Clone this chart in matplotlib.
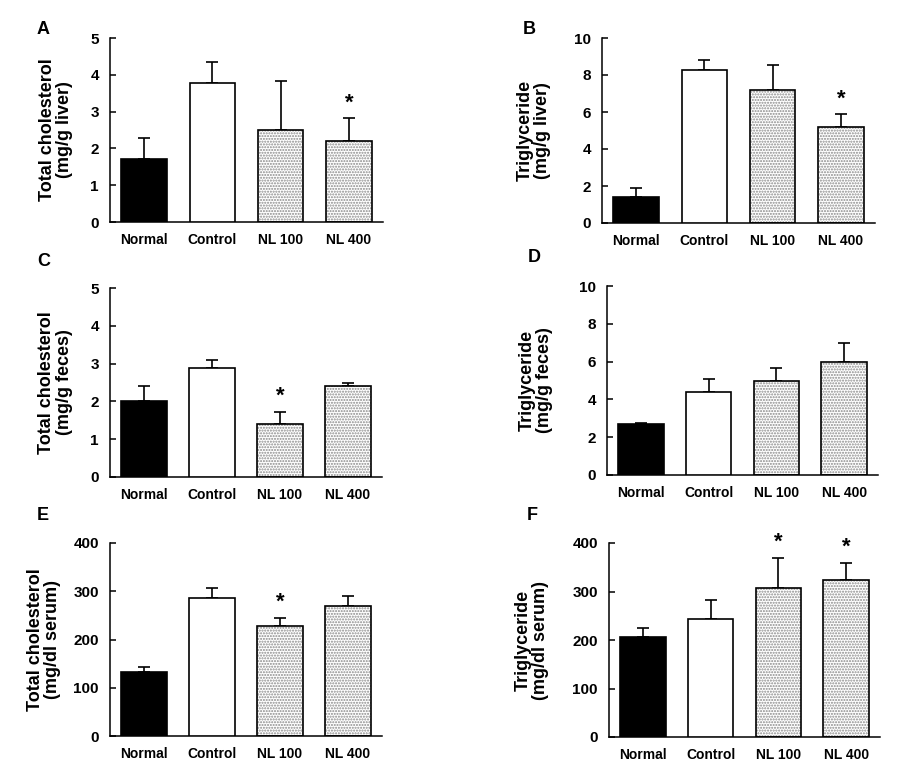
import matplotlib
matplotlib.use('Agg')
import matplotlib.pyplot as plt
import numpy as np

plt.rcParams['font.family'] = ['Liberation Sans', 'DejaVu Sans']
plt.rcParams['font.weight'] = 'bold'

groups = ['Normal', 'Control', 'NL 100', 'NL 400']

# panel data: mean, upper error (SD), significance
tc_liver = [1.7, 3.78, 2.5, 2.2]
tc_liver_err = [0.57, 0.56, 1.33, 0.63]
tc_liver_sig = [False, False, False, True]

tg_liver = [1.4, 8.25, 7.2, 5.2]
tg_liver_err = [0.5, 0.55, 1.35, 0.68]
tg_liver_sig = [False, False, False, True]

tc_feces = [2.0, 2.89, 1.39, 2.41]
tc_feces_err = [0.4, 0.2, 0.34, 0.08]
tc_feces_sig = [False, False, True, False]

tg_feces = [2.68, 4.39, 4.97, 5.96]
tg_feces_err = [0.08, 0.7, 0.68, 1.0]
tg_feces_sig = [False, False, False, False]

tc_serum = [132, 286, 229, 270]
tc_serum_err = [10, 21, 16, 21]
tc_serum_sig = [False, False, True, False]

tg_serum = [207, 243, 307, 323]
tg_serum_err = [18, 40, 62, 36]
tg_serum_sig = [False, False, True, True]

panels = [
    ('A', 'Total cholesterol\n(mg/g liver)', tc_liver, tc_liver_err, tc_liver_sig, 5, 1),
    ('B', 'Triglyceride\n(mg/g liver)', tg_liver, tg_liver_err, tg_liver_sig, 10, 2),
    ('C', 'Total cholesterol\n(mg/g feces)', tc_feces, tc_feces_err, tc_feces_sig, 5, 1),
    ('D', 'Triglyceride\n(mg/g feces)', tg_feces, tg_feces_err, tg_feces_sig, 10, 2),
    ('E', 'Total cholesterol\n(mg/dl serum)', tc_serum, tc_serum_err, tc_serum_sig, 400, 100),
    ('F', 'Triglyceride\n(mg/dl serum)', tg_serum, tg_serum_err, tg_serum_sig, 400, 100),
]

W, H = 900, 772
# axes boxes in pixels: left, top, right, bottom
boxes = [(110, 38, 383, 222), (602, 38, 875, 223),
         (110, 288, 382, 477), (607, 286, 878, 475),
         (110, 543, 382, 736), (609, 543, 880, 737)]
letter_pos = [(37, 30), (523, 30), (37, 261), (528, 257), (37, 515), (527, 516)]
label_x = [-0.198, -0.249, -0.2, -0.262, -0.243, -0.284]

fig = plt.figure(figsize=(9, 7.72), dpi=100)

x = np.arange(len(groups))
width = 0.67
for (letter, ylabel, vals, errs, sig, ymax, step), (l, t, r, b), (lx, ly), lbx in zip(
        panels, boxes, letter_pos, label_x):
    ax = fig.add_axes([l / W, 1 - b / H, (r - l) / W, (b - t) / H])
    fills = ['black', 'white', 'white', 'white']
    for i in range(len(groups)):
        if i >= 2:
            ax.bar(x[i], vals[i], width, color='white', edgecolor='#8a8a8a',
                   hatch='......', linewidth=0, zorder=2)
            ax.bar(x[i], vals[i], width, fill=False, edgecolor='black',
                   linewidth=1.2, zorder=3)
        else:
            ax.bar(x[i], vals[i], width, color=fills[i], edgecolor='black',
                   linewidth=1.2, zorder=3)
    ax.errorbar(x, vals, yerr=[np.zeros(len(vals)), errs], fmt='none',
                ecolor='black', elinewidth=1.2, capsize=4, capthick=1.2, zorder=1)
    for i, s in enumerate(sig):
        if s:
            ax.text(x[i], vals[i] + errs[i] + 0.025 * ymax, '*', ha='center',
                    va='bottom', fontsize=16, fontweight='bold')
    ax.set_xlim(-0.5, 3.5)
    ax.set_ylim(0, ymax)
    ax.set_yticks(np.arange(0, ymax + step / 2, step))
    ax.set_xticks(x)
    ax.set_xticklabels(groups)
    ax.spines['top'].set_visible(False)
    ax.spines['right'].set_visible(False)
    ax.spines['left'].set_linewidth(1.1)
    ax.spines['bottom'].set_linewidth(1.1)
    ax.tick_params(axis='y', direction='in', length=4, width=1.1, labelsize=11, pad=8)
    ax.tick_params(axis='x', length=0, labelsize=10, pad=8)
    for lab in ax.get_xticklabels() + ax.get_yticklabels():
        lab.set_fontweight('bold')
    ax.set_ylabel(ylabel, fontsize=13, fontweight='bold', va='center',
                  linespacing=1.05)
    ax.yaxis.set_label_coords(lbx, 0.5)
    fig.text(lx / W, 1 - ly / H, letter, fontsize=13, fontweight='bold',
             ha='left', va='center')

fig.savefig('out.png', dpi=100)
